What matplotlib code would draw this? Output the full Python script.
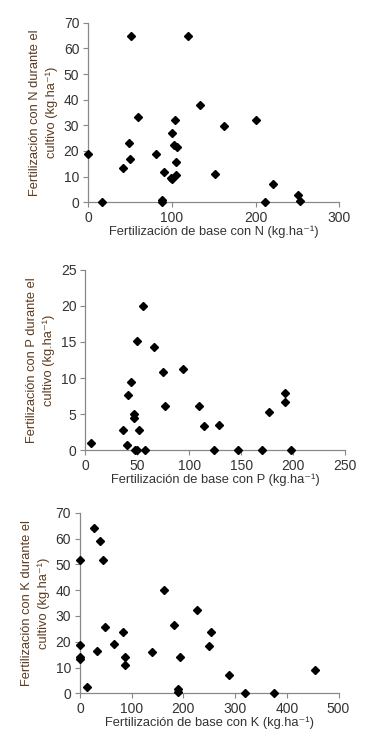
import matplotlib
matplotlib.use("Agg")
import matplotlib.pyplot as plt

# ---- datos ----
# N
n_base = [0, 16, 42, 49, 50, 51, 59, 81, 90, 88, 88, 100, 100, 99, 104, 102, 106, 105, 105,
          119, 134, 152, 162, 200, 211, 221, 251, 253]
n_cult = [19.0, 0.0, 13.2, 23.0, 16.9, 65.0, 33.1, 18.7, 11.8, 0.3, 1.0, 26.9, 9.1, 9.6, 32.0,
          22.3, 21.6, 15.8, 10.6, 65.0, 37.8, 10.9, 29.6, 32.0, 0.1, 7.0, 2.9, 0.6]

# P
p_base = [5, 36.5, 40, 41, 44, 47, 47, 48, 50, 50, 52, 55.5, 57.5, 66, 75, 77, 94, 109.5,
          114.5, 123.5, 128.5, 147, 170, 177, 192, 192, 198]
p_cult = [1.06, 2.86, 0.74, 7.65, 9.4, 5.0, 4.5, 0.0, 0.0, 15.1, 2.8, 20.0, 0.0, 14.3, 10.8,
          6.1, 11.2, 6.1, 3.3, 0.0, 3.46, 0.0, 0.0, 5.35, 7.9, 6.7, 0.0]

# K
k_base = [0, 0, 0, 0, 13, 27, 33, 39, 44.5, 48, 66, 83, 86.5, 86.5, 140, 163, 182, 193.5,
          189, 189, 226, 254, 250, 288, 319, 375, 455]
k_cult = [18.7, 14.2, 13.3, 51.7, 2.6, 64.0, 16.5, 59.0, 51.7, 25.7, 19.1, 23.9, 14.0, 10.9,
          16.0, 40.0, 26.5, 14.1, 1.5, 0.4, 32.3, 23.8, 18.2, 7.2, 0.3, 0.3, 8.9]

LABEL_FONT = ["Liberation Sans", "DejaVu Sans"]
TICK_FONT = ["Liberation Sans", "DejaVu Sans"]
LABEL_COLOR = "#5b3a1d"
TICK_COLOR = "#333333"
SPINE_COLOR = "#888888"

paneles = [
    # (x, y, xmax, xstep, ymax, ystep, nutriente, posicion)
    (n_base, n_cult, 300, 100, 70, 10, "N", [0.2419, 0.7317, 0.6877, 0.2382]),
    (p_base, p_cult, 250, 50, 25, 5, "P", [0.2342, 0.4028, 0.7110, 0.2395]),
    (k_base, k_cult, 500, 100, 70, 10, "K", [0.2192, 0.0805, 0.7082, 0.2395]),
]

fig = plt.figure(figsize=(3.65, 7.54), dpi=100)

for xs, ys, xmax, xstep, ymax, ystep, nut, pos in paneles:
    ax = fig.add_axes(pos)
    ax.plot(xs, ys, linestyle="none", marker="D", markersize=4.0,
            color="black", clip_on=False, zorder=3)
    ax.set_xlim(0, xmax)
    ax.set_ylim(0, ymax)
    ax.set_xticks(range(0, xmax + 1, xstep))
    ax.set_yticks(range(0, ymax + 1, ystep))
    for s in ["top", "right"]:
        ax.spines[s].set_visible(False)
    for s in ["left", "bottom"]:
        ax.spines[s].set_color(SPINE_COLOR)
        ax.spines[s].set_linewidth(0.9)
    ax.tick_params(direction="out", length=3.5, width=0.8, color=SPINE_COLOR,
                   labelsize=10, labelcolor=TICK_COLOR, pad=3)
    for lab in ax.get_xticklabels() + ax.get_yticklabels():
        lab.set_family(TICK_FONT)
    ax.set_xlabel("Fertilización de base con %s (kg.ha\u207b\u00b9)" % nut,
                  family=LABEL_FONT, fontsize=9.3, color=TICK_COLOR, labelpad=0)
    ax.set_ylabel("Fertilización con %s durante el\ncultivo (kg.ha\u207b\u00b9)" % nut,
                  family=LABEL_FONT, fontsize=9.3, color=LABEL_COLOR,
                  linespacing=1.45, labelpad=4)

fig.savefig("out.png", dpi=100)
